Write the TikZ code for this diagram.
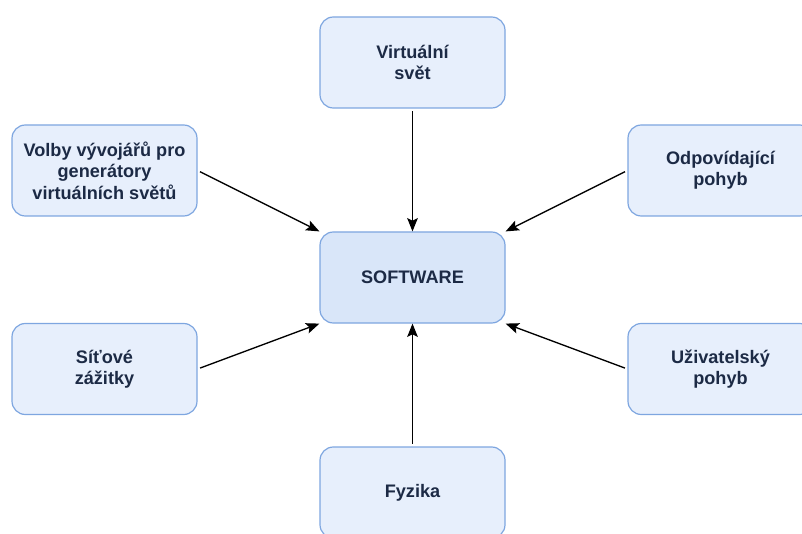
\documentclass[tikz,border=0pt]{standalone}
\usepackage{fontspec}
\setmainfont{Liberation Sans}
\usetikzlibrary{arrows.meta}
\definecolor{boxfill}{HTML}{E7EFFC}
\definecolor{corefill}{HTML}{D9E6F9}
\definecolor{boxline}{HTML}{7EA6E0}
\definecolor{boxtext}{HTML}{1C2A45}
\tikzset{
  topic/.style={draw=boxline, line width=0.9pt, fill=boxfill, rounded corners=10pt,
    minimum width=138.75pt, minimum height=68.25pt, align=center, text=boxtext,
    font=\fontsize{13.6}{16}\selectfont\bfseries, inner sep=2pt},
  core/.style={topic, fill=corefill},
  feed/.style={-{Stealth[length=10pt,width=8pt,inset=2pt]}, line width=1pt, black,
    shorten <=2pt}
}
\begin{document}
\begin{tikzpicture}[x=0.75pt, y=-0.75pt]
    \useasboundingbox (0,0) rectangle (802,534);

    \node[core] (sw) at (412.5, 277.5) {SOFTWARE};
    \node[topic] (svet) at (412.5, 62.5) {Virtuální\\svět};
    \node[topic] (volby) at (104.5, 170.5) {Volby vývojářů pro\\generátory\\virtuálních světů};
    \node[topic] (odpov) at (720.5, 170.5) {Odpovídající\\pohyb};
    \node[topic] (sit) at (104.5, 369) {Síťové\\zážitky};
    \node[topic] (uziv) at (720.5, 369) {Uživatelský\\pohyb};
    \node[topic] (fyz) at (412.5, 492.5) {Fyzika};

    \draw[feed] (svet) -- (sw);
    \draw[feed] (volby.east) -- (sw.north west);
    \draw[feed] (odpov.west) -- (sw.north east);
    \draw[feed] (sit.east) -- (sw.south west);
    \draw[feed] (uziv.west) -- (sw.south east);
    \draw[feed] (fyz) -- (sw);
  \end{tikzpicture}
\end{document}
